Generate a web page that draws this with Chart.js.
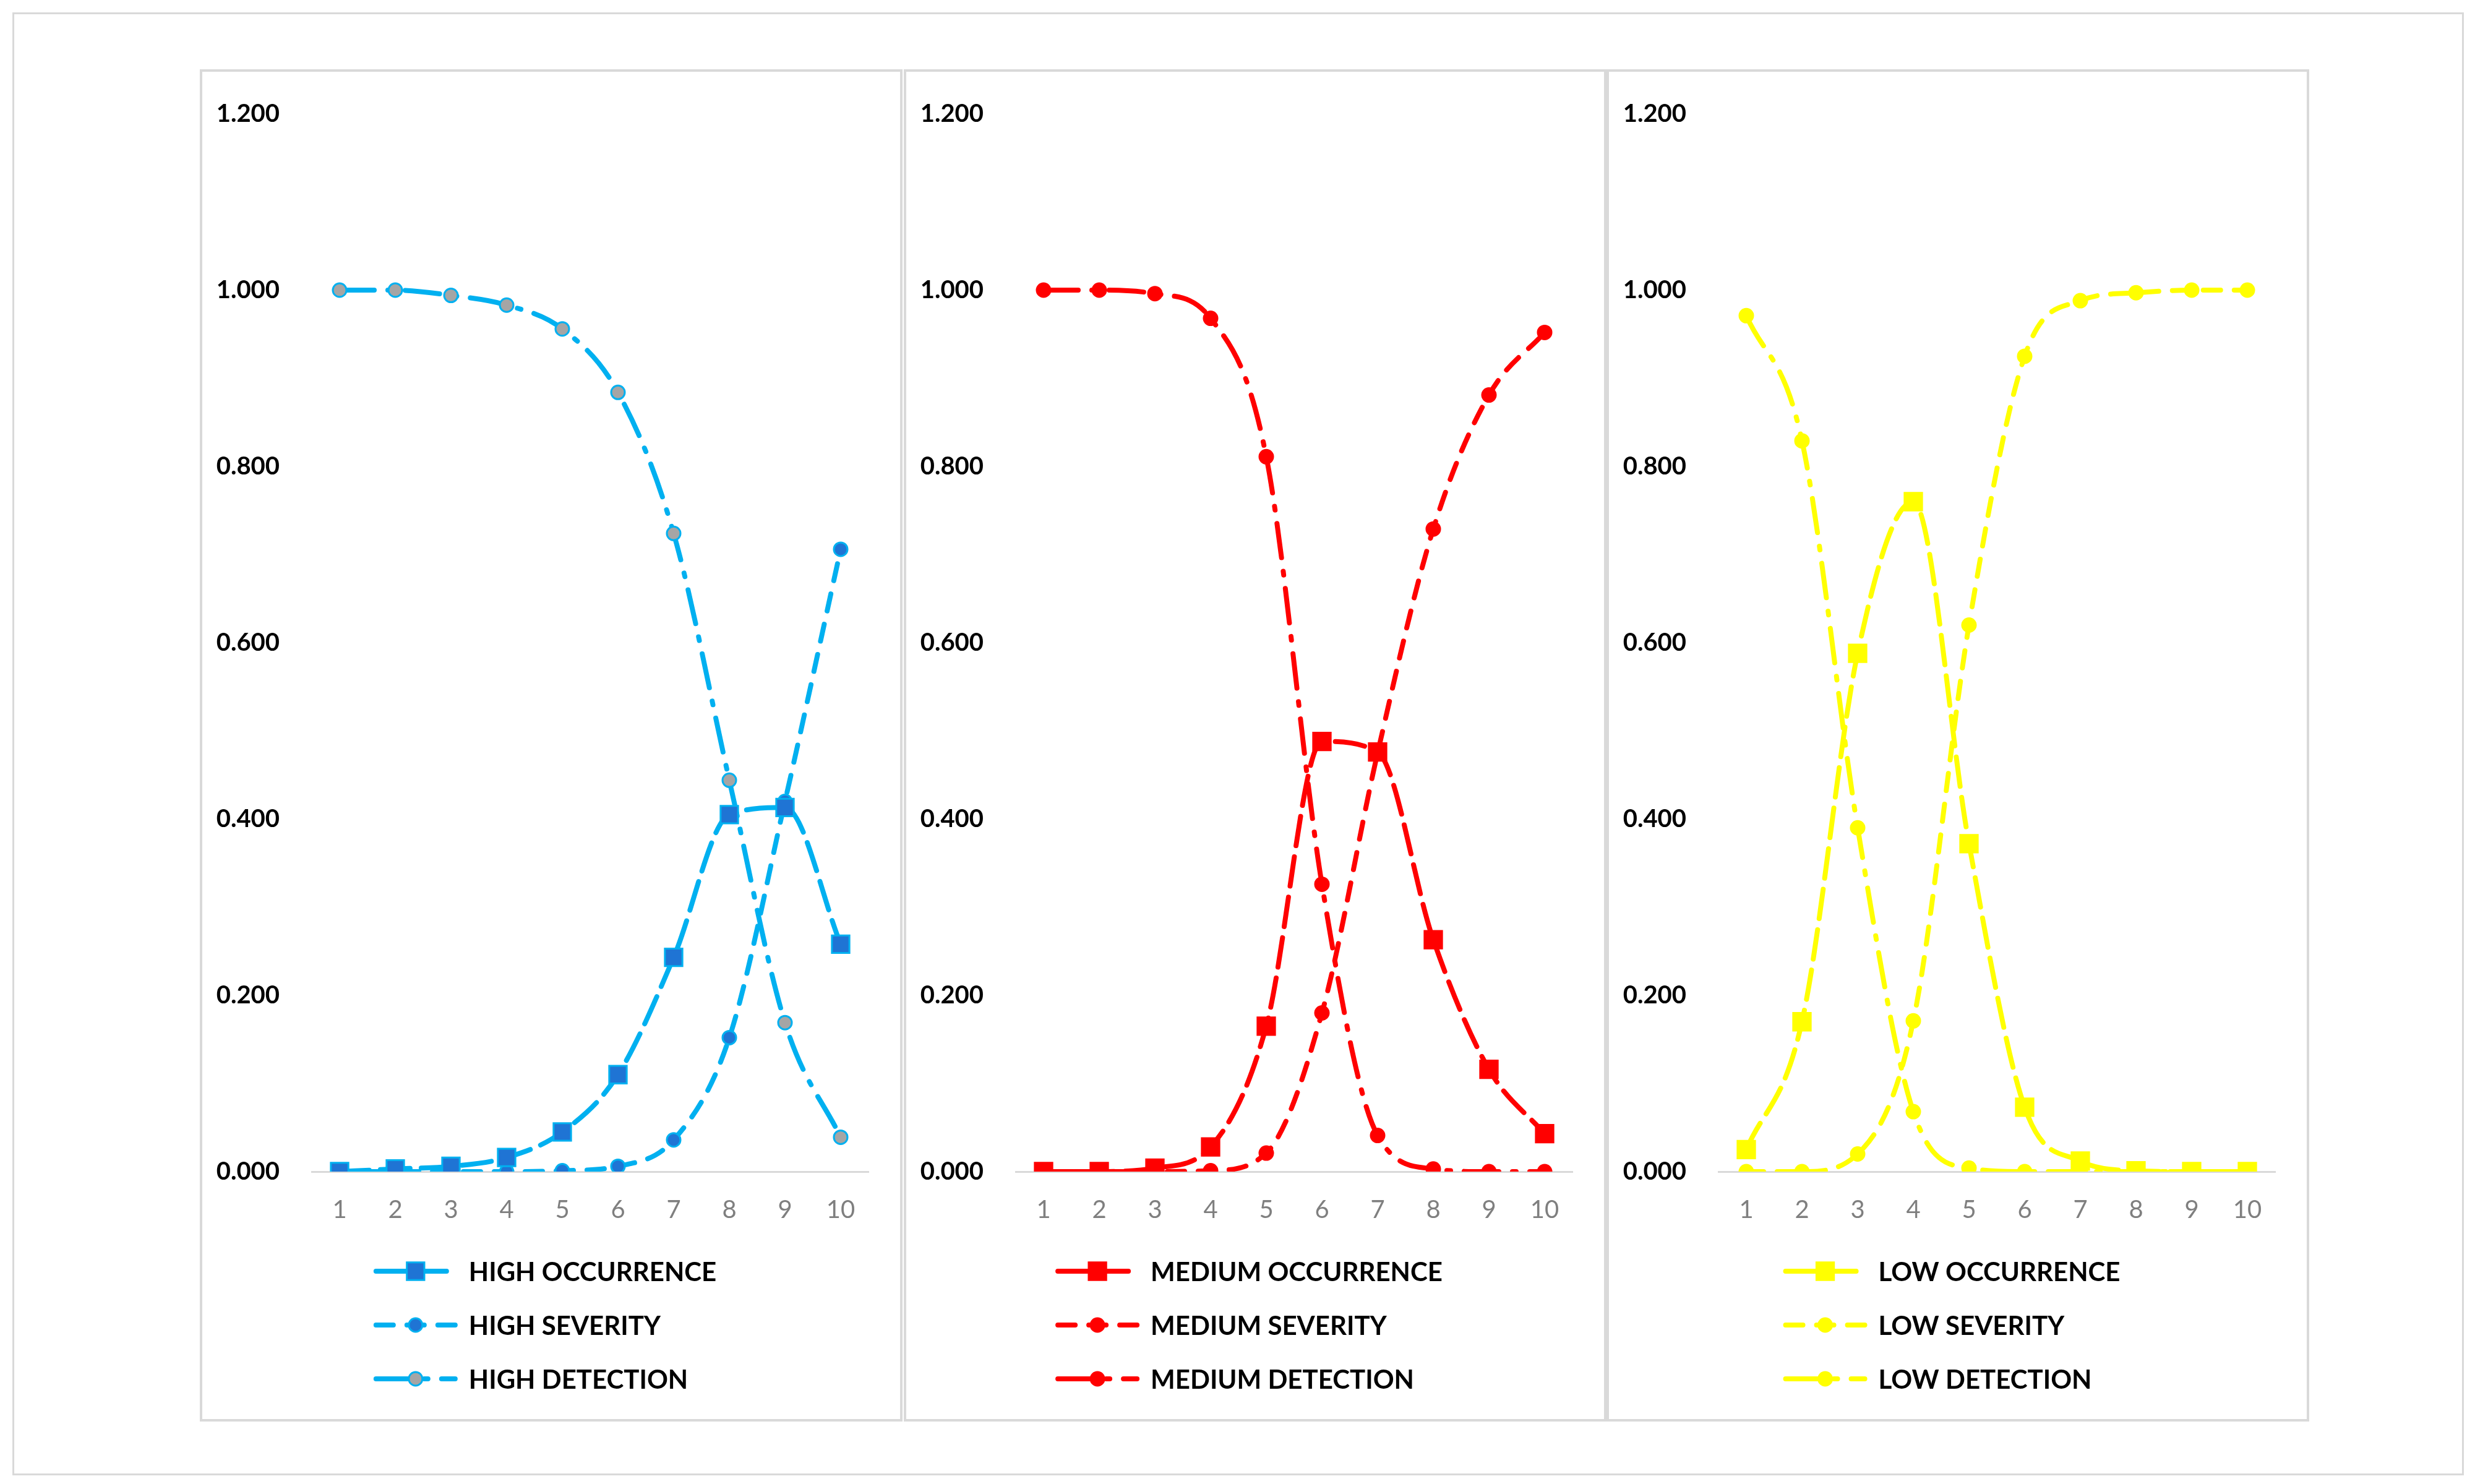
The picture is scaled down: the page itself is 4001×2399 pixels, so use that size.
<!DOCTYPE html>
<html><head><meta charset="utf-8">
<script src="https://cdn.jsdelivr.net/npm/chart.js@4"></script>
<style>
body{margin:0;background:#fff;width:4001px;height:2399px;position:relative;overflow:hidden}
#outer{position:absolute;left:20px;top:20px;width:3957px;height:2359px;border:3px solid #d9d9d9}
.p{position:absolute;top:112px;width:1128px;height:2178px;border:4px solid #d9d9d9;background:#fff}
canvas{display:block}
</style></head><body>
<div id="outer"></div>
<div class="p" style="left:323px"><canvas id="c0"></canvas></div>
<div class="p" style="left:1461px"><canvas id="c1"></canvas></div>
<div class="p" style="left:2597px"><canvas id="c2"></canvas></div>
<script>
const categories=['1','2','3','4','5','6','7','8','9','10'];
const yTicks=[0,0.2,0.4,0.6,0.8,1.0,1.2];
const highOccurrence=[0.000,0.003,0.006,0.016,0.045,0.110,0.243,0.405,0.413,0.258];
const highSeverity=[0.000,0.000,0.000,0.000,0.001,0.006,0.036,0.152,0.420,0.706];
const highDetection=[1.000,1.000,0.994,0.983,0.956,0.884,0.724,0.444,0.169,0.039];
const mediumOccurrence=[0.000,0.000,0.004,0.028,0.165,0.488,0.476,0.263,0.116,0.043];
const mediumSeverity=[0.000,0.000,0.000,0.001,0.021,0.180,0.475,0.729,0.881,0.952];
const mediumDetection=[1.000,1.000,0.996,0.968,0.811,0.326,0.041,0.003,0.000,0.000];
const lowOccurrence=[0.025,0.170,0.588,0.760,0.372,0.073,0.012,0.001,0.000,0.000];
const lowSeverity=[0.000,0.000,0.020,0.171,0.620,0.925,0.988,0.997,1.000,1.000];
const lowDetection=[0.971,0.829,0.390,0.068,0.004,0.000,0.000,0.000,0.000,0.000];

const FONT='Lato, "Open Sans", sans-serif';
const DASH={occ:[48,18],sev:[28,22],det:[56,22,6,22]};

const legendPlugin={id:'lg',afterDraw(chart){
  const ctx=chart.ctx, ds=chart.data.datasets, W=chart.width;
  ctx.save();
  ctx.font='bold 42px '+FONT;
  let maxT=0; ds.forEach(d=>maxT=Math.max(maxT,ctx.measureText(d.label).width));
  const sw=128, gap=22, total=sw+gap+maxT;
  const x0=(W-total)/2-8;
  const ys=[2055-116,2142-116,2229-116];
  ds.forEach((d,i)=>{
    const y=ys[i];
    ctx.strokeStyle=d.borderColor; ctx.lineWidth=d.borderWidth; ctx.lineCap='round';
    ctx.setLineDash(d.borderDash); ctx.beginPath(); ctx.moveTo(x0,y); ctx.lineTo(x0+sw,y); ctx.stroke();
    ctx.setLineDash([]);
    ctx.fillStyle=d.pointBackgroundColor; ctx.strokeStyle=d.pointBorderColor;
    ctx.beginPath();
    if(d.pointStyle==='rect'){const s=d.pointRadius*Math.SQRT1_2;ctx.rect(x0+sw/2-s,y-s,2*s,2*s);}else{ctx.arc(x0+sw/2,y,d.pointRadius,0,Math.PI*2);}
    ctx.fill(); ctx.lineWidth=d.pointBorderWidth; ctx.stroke();
    ctx.fillStyle='#000'; ctx.textBaseline='middle'; ctx.textAlign='left';
    ctx.fillText(d.label,x0+sw+gap,y+2);
  });
  ctx.restore();
}};

function mk(id,name,color,fills,occ,sev,det){
  const base=(label,data,dash,style,r,fill)=>({label,data,borderColor:color,borderWidth:8,borderDash:dash,borderCapStyle:'round',
    pointStyle:style,pointRadius:r,pointHoverRadius:r,pointBackgroundColor:fill,pointBorderColor:color,pointBorderWidth:3,
    cubicInterpolationMode:'monotone',fill:false});
  new Chart(document.getElementById(id),{type:'line',
    data:{labels:categories,datasets:[
      base(name+' OCCURRENCE',occ,DASH.occ,'rect',20,fills[0]),
      base(name+' SEVERITY',sev,DASH.sev,'circle',11,fills[1]),
      base(name+' DETECTION',det,DASH.det,'circle',11,fills[2])]},
    options:{responsive:false,animation:false,devicePixelRatio:1,
      layout:{padding:{top:45,right:51,left:0,bottom:0}},
      plugins:{legend:{display:false},tooltip:{enabled:false}},
      scales:{
        x:{offset:true,grid:{display:false,drawTicks:false},border:{color:'#d9d9d9',width:3},
           ticks:{color:'#7f7f7f',font:{family:FONT,size:40},padding:38},
           afterFit:s=>{s.height=400;}},
        y:{min:0,max:1.2,grid:{display:false},border:{display:false},
           afterBuildTicks:s=>{s.ticks=yTicks.map(v=>({value:v}));},
           ticks:{color:'#000',font:{family:FONT,size:40,weight:'bold'},padding:44,callback:v=>Number(v).toFixed(3)},
           afterFit:s=>{s.width=177;}}
      }}, plugins:[legendPlugin]});
}
['c0','c1','c2'].forEach(id=>{const c=document.getElementById(id);c.width=1128;c.height=2178;c.style.width='1128px';c.style.height='2178px';});
mk('c0','HIGH','#00B0F0',['#1F74D4','#1F74D4','#A5A5A5'],highOccurrence,highSeverity,highDetection);
mk('c1','MEDIUM','#FF0000',['#FF0000','#FF0000','#FF0000'],mediumOccurrence,mediumSeverity,mediumDetection);
mk('c2','LOW','#FFFF00',['#FFFF00','#FFFF00','#FFFF00'],lowOccurrence,lowSeverity,lowDetection);
</script></body></html>
